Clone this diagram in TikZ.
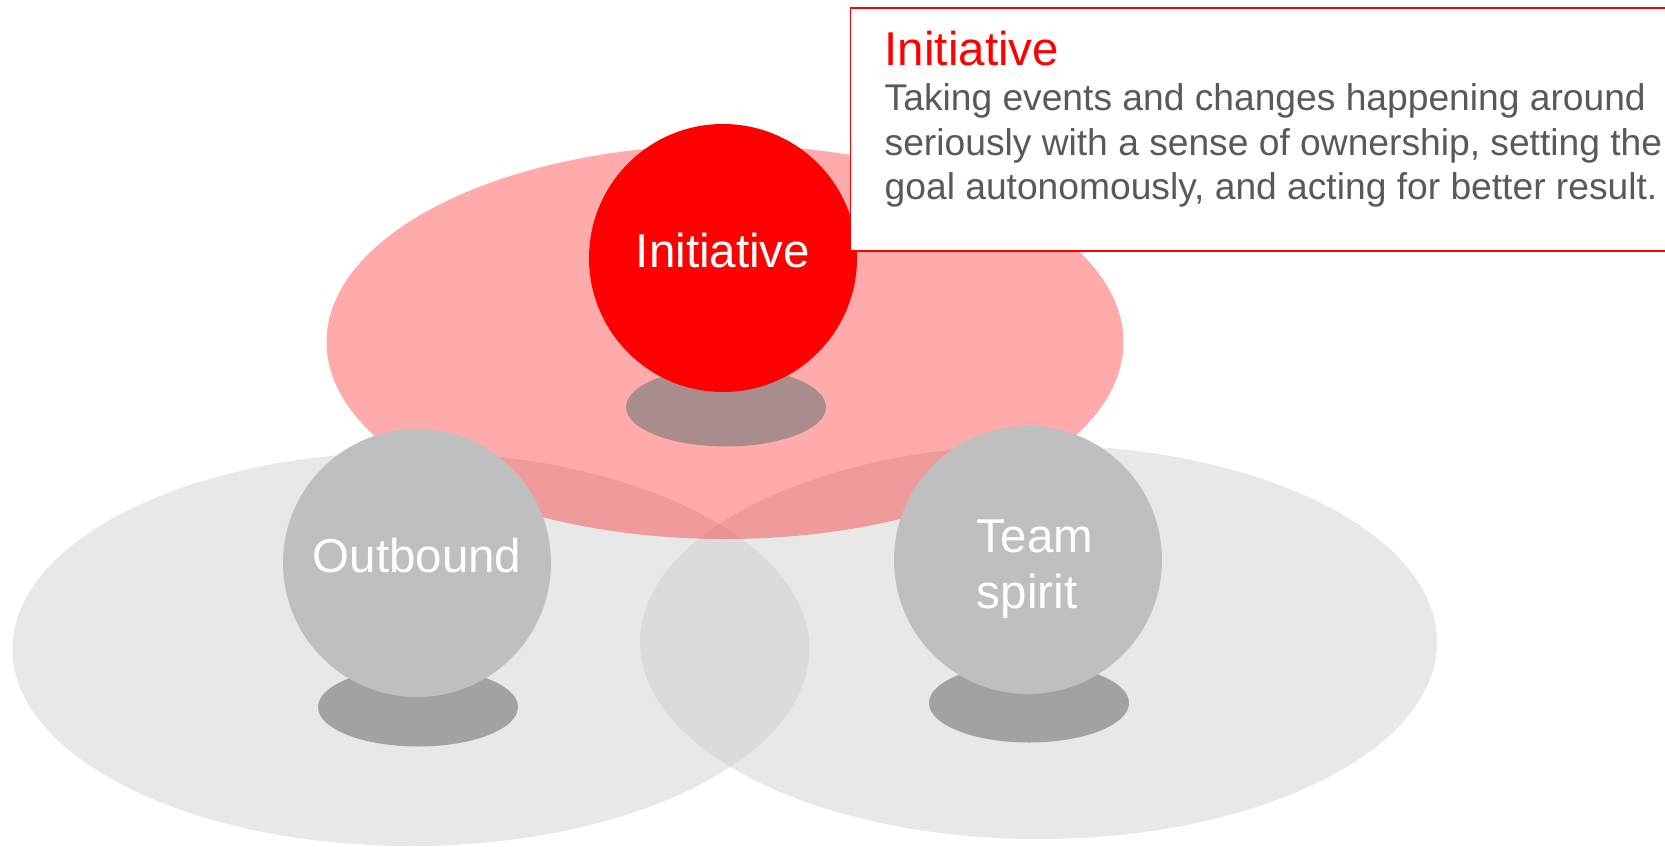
\documentclass[tikz,border=0pt]{standalone}
\usepackage{fontspec}
\setmainfont{Liberation Sans}
\usetikzlibrary{positioning,shapes.geometric}
\definecolor{brand}{HTML}{FF0000}
\definecolor{ballgray}{HTML}{BFBFBF}
\definecolor{field}{HTML}{CACACA}
\definecolor{shade}{HTML}{808080}
\definecolor{bodytext}{HTML}{595959}

\begin{document}
\begin{tikzpicture}[x=1pt,y=-1pt,
    area/.style={ellipse,fill=field,fill opacity=.43,inner sep=0pt,
        minimum width=797pt,minimum height=394pt},
    foot/.style={ellipse,fill=shade,fill opacity=.67,inner sep=0pt,
        minimum width=200pt,minimum height=79pt},
    ball/.style={circle,fill=ballgray,inner sep=0pt,minimum size=268pt},
    word/.style={text=white,font=\fontsize{47.5}{56}\selectfont}]
  \useasboundingbox (0,0) rectangle (1665,846);

  % value fields
  \node[area] (outfield) at (411,649) {};
  \node[area] (teamfield) at (1038.5,642) {};
  \node[area,fill=brand,fill opacity=.33] (initfield) at (725,342) {};

  % shadows under the balls
  \node[foot] (initfoot) at (726,407) {};
  \node[foot] (outfoot) at (418,707) {};
  \node[foot] (teamfoot) at (1029,703) {};

  % balls
  \node[ball,fill=brand] (init) at (723,258) {};
  \node[ball] (outb) at (417,563) {};
  \node[ball] (team) at (1028,560) {};
  \node[word] at ([yshift=7pt]init.center) {Initiative};
  \node[word] at ([yshift=7pt]outb.center) {Outbound};
  \node[word,align=left] at ([xshift=7pt,yshift=-9pt]team.center) {Team\\spirit};

  % description card
  \node[rectangle,draw=brand,line width=1.5pt,fill=white,anchor=north west,
      minimum width=840pt,minimum height=243pt] (card) at (849.5,7.4) {};
  \node[anchor=base west,inner sep=0pt,text=brand,
      font=\fontsize{47.5}{55}\selectfont] (cardtitle) at (884.5,65) {Initiative};
  \node[anchor=north west,inner sep=0pt,text=bodytext,align=left,
      font=\fontsize{37.2}{44.6}\selectfont] (cardbody) at (884.5,83.5)
    {Taking events and changes happening around\\
     seriously with a sense of ownership, setting the\\
     goal autonomously, and acting for better result.};
\end{tikzpicture}
\end{document}
